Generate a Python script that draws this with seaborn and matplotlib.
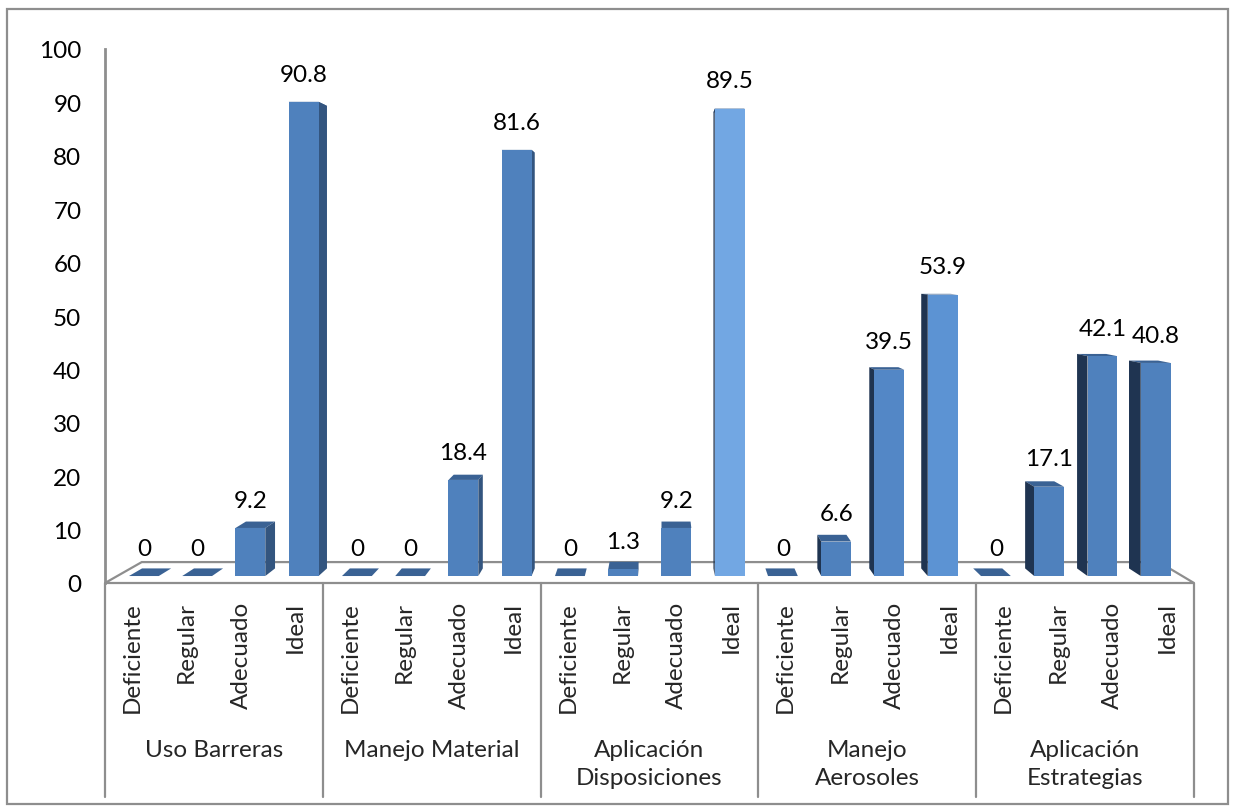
import matplotlib
matplotlib.use("Agg")
import matplotlib.pyplot as plt
from matplotlib.patches import Polygon, Rectangle
from matplotlib.transforms import Affine2D, blended_transform_factory
import seaborn as sns
import pandas as pd

# ---- data -------------------------------------------------------------
groups = ["Uso Barreras", "Manejo Material", "Aplicación\nDisposiciones",
          "Manejo\nAerosoles", "Aplicación\nEstrategias"]
levels = ["Deficiente", "Regular", "Adecuado", "Ideal"]
uso_barreras = [0, 0, 9.2, 90.8]
manejo_material = [0, 0, 18.4, 81.6]
aplicacion_disposiciones = [0, 1.3, 9.2, 89.5]
manejo_aerosoles = [0, 6.6, 39.5, 53.9]
aplicacion_estrategias = [0, 17.1, 42.1, 40.8]
y_ticks = [0, 10, 20, 30, 40, 50, 60, 70, 80, 90, 100]

series = [uso_barreras, manejo_material, aplicacion_disposiciones,
          manejo_aerosoles, aplicacion_estrategias]
rows = []
for g, vals in zip(groups, series):
    for lev, v in zip(levels, vals):
        rows.append({"key": f"{g}|{lev}", "grupo": g, "nivel": lev, "valor": v})
df = pd.DataFrame(rows)
keys = list(df["key"])

# front-face shading (lighter near the centre of the 3D view)
front = ["#4F81BD"] * len(keys)
front[11] = "#72A7E3"
front[15] = "#5C93D3"
front[14] = "#5387C6"
palette = dict(zip(keys, front))
TOP = "#3A6294"
RIGHT_SIDE = "#33557F"
LEFT_SIDE = "#1F3451"
GRID = "#8E8E8E"
FS = 17.5

# ---- figure -----------------------------------------------------------
sns.set_theme(style="white")
plt.rcParams["font.family"] = ["Lato", "DejaVu Sans"]
W, H = 1235, 812
fig = plt.figure(figsize=(W / 100, H / 100), dpi=100)
fig.patch.set_facecolor("white")

x_left, x_right, y_zero, y_top = 105, 1194, 584, 50
ax = fig.add_axes([x_left / W, 1 - y_zero / H,
                   (x_right - x_left) / W, (y_zero - y_top) / H])
ax.set_facecolor("none")

sns.barplot(data=df, x="key", y="valor", hue="key", order=keys,
            hue_order=keys, palette=palette, width=0.56, linewidth=0,
            saturation=1, legend=False, ax=ax, zorder=4)
ax.set_xlim(-0.5, len(keys) - 0.5)
ax.set_ylim(0, 100)
bars = sorted([p for p in ax.patches if isinstance(p, Rectangle)],
              key=lambda p: p.get_x())

# vanishing point of the pseudo-3D projection (data coordinates)
px_per_x = (x_right - x_left) / len(keys)
px_per_y = (y_zero - y_top) / 100
vx = -0.5 + (662 - x_left) / px_per_x
vy = (y_zero - 267) / px_per_y
S_FRONT, S_BACK, S_FLOOR = 0.022, 0.046, 0.066


def proj(x, y, s):
    return (vx + (1 - s) * (x - vx), vy + (1 - s) * (y - vy))


def depth_tf(s):
    return Affine2D().translate(-vx, -vy).scale(1 - s).translate(vx, vy)


# floor
x0, x1 = -0.5, len(keys) - 0.5
ax.add_patch(Polygon([(x0, 0), (x1, 0), proj(x1, 0, S_FLOOR),
                      proj(x0, 0, S_FLOOR)],
                     closed=True, facecolor="white", edgecolor=GRID, lw=1.6,
                     zorder=1, clip_on=False))

# bars: front faces pushed into depth, plus side and top faces
for b, v in zip(bars, df["valor"]):
    bx0, bw, h = b.get_x(), b.get_width(), b.get_height()
    bx1 = bx0 + bw
    b.set_transform(depth_tf(S_FRONT) + ax.transData)
    b.set_clip_on(False)
    ax.add_patch(Polygon([proj(bx0, h, S_FRONT), proj(bx1, h, S_FRONT),
                          proj(bx1, h, S_BACK), proj(bx0, h, S_BACK)],
                         closed=True, facecolor=TOP, lw=0, zorder=3,
                         clip_on=False))
    cx = bx0 + bw / 2
    if cx < vx:
        ex, col = bx1, RIGHT_SIDE
    else:
        ex, col = bx0, LEFT_SIDE
    ax.add_patch(Polygon([proj(ex, 0, S_FRONT), proj(ex, h, S_FRONT),
                          proj(ex, h, S_BACK), proj(ex, 0, S_BACK)],
                         closed=True, facecolor=col, lw=0, zorder=3,
                         clip_on=False))
    lx, ly = proj(cx, h, S_FRONT)
    ax.annotate(f"{v:g}", (lx, ly), xytext=(0, 20), textcoords="offset points",
                ha="center", va="center", fontsize=FS, color="black",
                zorder=6, annotation_clip=False)

# axes styling
for side_name in ["top", "right", "bottom"]:
    ax.spines[side_name].set_visible(False)
ax.spines["left"].set_color(GRID)
ax.spines["left"].set_linewidth(2)
ax.set_yticks(y_ticks)
ax.set_yticklabels([str(t) for t in y_ticks], fontsize=FS)
ax.tick_params(axis="y", length=0, pad=17, colors="black")
ax.set_xticks([])
ax.set_xlabel("")
ax.set_ylabel("")

# category axis: level labels, group labels and separators
bt = blended_transform_factory(ax.transData, ax.transAxes)
ax_h = y_zero - y_top
for i, k in enumerate(keys):
    ax.text(i, -(602 - y_zero) / ax_h, df["nivel"][i], transform=bt,
            rotation=90, ha="center", va="top", fontsize=FS, clip_on=False)
for gi, g in enumerate(groups):
    ax.text(gi * 4 + 1.5, -(740 - y_zero) / ax_h, g, transform=bt,
            ha="center", va="top", fontsize=FS, linespacing=1.4,
            clip_on=False)
for sx in range(0, len(keys) + 1, 4):
    ax.plot([sx - 0.5, sx - 0.5], [0, -(798 - y_zero) / ax_h], transform=bt,
            color=GRID, lw=1.6, clip_on=False, zorder=1)

# chart frame
fig.patches.append(Rectangle((7 / W, 1 - 805 / H), (1228 - 7) / W,
                             (805 - 10) / H, transform=fig.transFigure,
                             fill=False, edgecolor=GRID, lw=1.6))

fig.savefig("out.png", dpi=100)
